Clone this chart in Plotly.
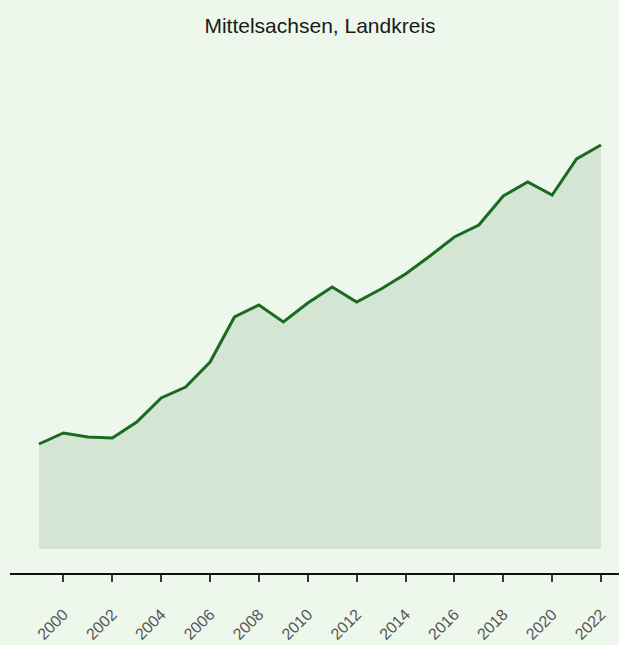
import plotly.graph_objects as go

years = list(range(1999, 2023))
values = [105, 116, 112, 111, 127, 151, 162, 187, 232, 244, 227, 246,
          262, 247, 260, 275, 293, 312, 324, 353, 367, 354, 390, 404]
tick_years = list(range(2000, 2023, 2))
tick_labels = [str(y) for y in tick_years]
title_text = "Mittelsachsen, Landkreis"

W, H = 619, 645
ml, mr, mt, mb = 10, 0, 60, 72
# x-range: 1999 at px 39, 2022 at px 601
px_per_year = (601 - 39) / (2022 - 1999)
x0 = 1999 - (39 - ml) / px_per_year
x1 = 2022 + (W - mr - 601) / px_per_year
# y-range: 0 at px 549, plot bottom at 573, top at 60
y0 = -(H - mb - 549)
y1 = 549 - mt

fig = go.Figure()
fig.add_trace(go.Scatter(
    x=years, y=values, mode="lines", fill="tozeroy",
    fillcolor="#d4e6d3", line=dict(color="#1a6b21", width=3),
    hoverinfo="x+y", showlegend=False,
))

fig.update_layout(
    width=W, height=H,
    margin=dict(l=ml, r=mr, t=mt, b=mb, autoexpand=False),
    paper_bgcolor="#edf7ec", plot_bgcolor="#edf7ec",
    title=dict(text=title_text, x=320 / W, xanchor="center",
               y=1 - 26 / H, yanchor="middle", xref="container", yref="container",
               font=dict(family="Liberation Sans, Arial", size=21, color="#1a1a1a")),
    font=dict(family="Liberation Sans, Arial"),
)
fig.update_xaxes(
    range=[x0, x1], tickmode="array", tickvals=tick_years, ticktext=tick_labels,
    tickangle=-45, ticks="outside", ticklen=7, tickwidth=2, tickcolor="#333333",
    showline=True, linecolor="#111111", linewidth=1.5, showgrid=False, zeroline=False,
    tickfont=dict(size=16, color="#555555"), ticklabelstandoff=17, automargin=False,
)
fig.update_yaxes(range=[y0, y1], visible=False, showgrid=False, zeroline=False,
                 automargin=False)

fig.write_html("out.html", config={"displayModeBar": False},
               post_script="document.body.style.margin='0';document.body.style.padding='0';")
